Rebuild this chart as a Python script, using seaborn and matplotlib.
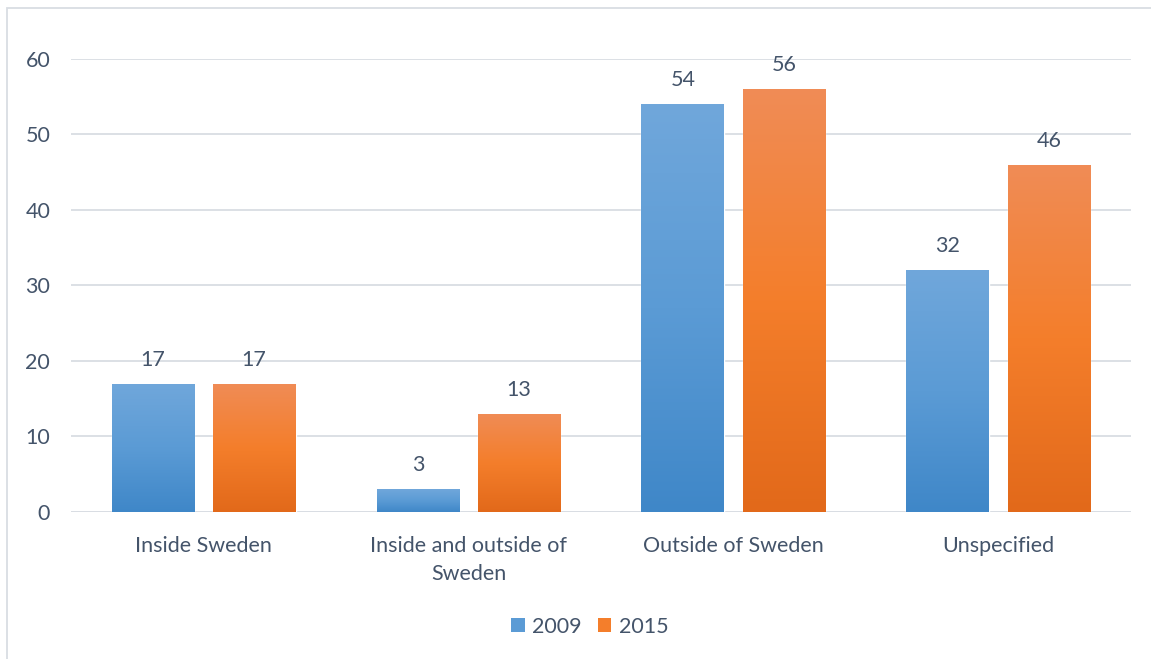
import numpy as np
import pandas as pd
import matplotlib
matplotlib.use("Agg")
import matplotlib.pyplot as plt
from matplotlib.colors import LinearSegmentedColormap
from matplotlib.patches import Rectangle, Patch
import seaborn as sns

# Data
categories = ["Inside Sweden", "Inside and outside of\nSweden", "Outside of Sweden", "Unspecified"]
years = ["2009", "2015"]
values_2009 = [17, 3, 54, 32]
values_2015 = [17, 13, 56, 46]

df = pd.DataFrame({
    "category": categories * 2,
    "year": [years[0]] * len(categories) + [years[1]] * len(categories),
    "value": values_2009 + values_2015,
})

sns.set_theme(style="white")
plt.rcParams["font.family"] = ["Lato", "DejaVu Sans"]

text_color = "#44546a"
grid_color = "#d9dde3"
fs = 15.5

# vertical gradients for each series (top -> middle -> bottom)
grad_stops = {
    "2009": ["#70a7db", "#5b9bd5", "#3f87c8"],
    "2015": ["#f08c56", "#f47e2b", "#e2691a"],
}
solid = {"2009": "#5b9bd5", "2015": "#f47e2b"}

fig = plt.figure(figsize=(11.51, 6.59), dpi=100)
ax = fig.add_axes([0.0617, 0.2231, 0.9209, 0.6874])

sns.barplot(data=df, x="category", y="value", hue="year", hue_order=years,
            palette=solid, width=0.763, gap=0.18, legend=False, ax=ax,
            errorbar=None, saturation=1, zorder=2)

ax.set_ylim(0, 60)
ax.set_xlim(-0.5, len(categories) - 0.5)
ax.set_yticks(np.arange(0, 61, 10))

# gradient fills clipped to each bar
for year, container in zip(years, ax.containers):
    cmap = LinearSegmentedColormap.from_list(year, grad_stops[year][::-1])
    grad = np.linspace(0, 1, 256).reshape(-1, 1)
    for bar in container:
        x0, w, h = bar.get_x(), bar.get_width(), bar.get_height()
        im = ax.imshow(grad, cmap=cmap, origin="lower", aspect="auto",
                       extent=[x0, x0 + w, 0, h], zorder=3)
        im.set_clip_path(bar)
    ax.bar_label(container, labels=[f"{v:g}" for v in container.datavalues],
                 padding=10, fontsize=fs, color=text_color, zorder=5)

ax.set_xlim(-0.5, len(categories) - 0.5)
ax.set_ylim(0, 60)

ax.yaxis.grid(True, color=grid_color, linewidth=1.3, zorder=0)
ax.set_axisbelow(True)
for s in ax.spines.values():
    s.set_visible(False)
ax.axhline(0, color=grid_color, linewidth=1.3, zorder=1)

ax.set_xlabel("")
ax.set_ylabel("")
ax.tick_params(axis="y", length=0, pad=15, labelsize=fs, labelcolor=text_color)
ax.tick_params(axis="x", length=0, pad=17, labelsize=fs, labelcolor=text_color)
for lbl in ax.get_xticklabels():
    lbl.set_linespacing(1.55)

handles = [Patch(facecolor=solid[y], edgecolor="none", label=y) for y in years]
fig.legend(handles=handles, loc="center", bbox_to_anchor=(0.5125, 0.049), ncol=2,
           frameon=False, fontsize=fs, labelcolor=text_color,
           handlelength=0.62, handleheight=0.62, handletextpad=0.35, columnspacing=0.75)

# outer chart border
fig.patches.append(Rectangle((7 / 1151, -0.1), 1.2, 1 - 8 / 659 + 0.1,
                             transform=fig.transFigure, fill=False,
                             edgecolor="#d9dde3", linewidth=1.3, zorder=0))

fig.savefig("out.png", dpi=100, facecolor="white")
